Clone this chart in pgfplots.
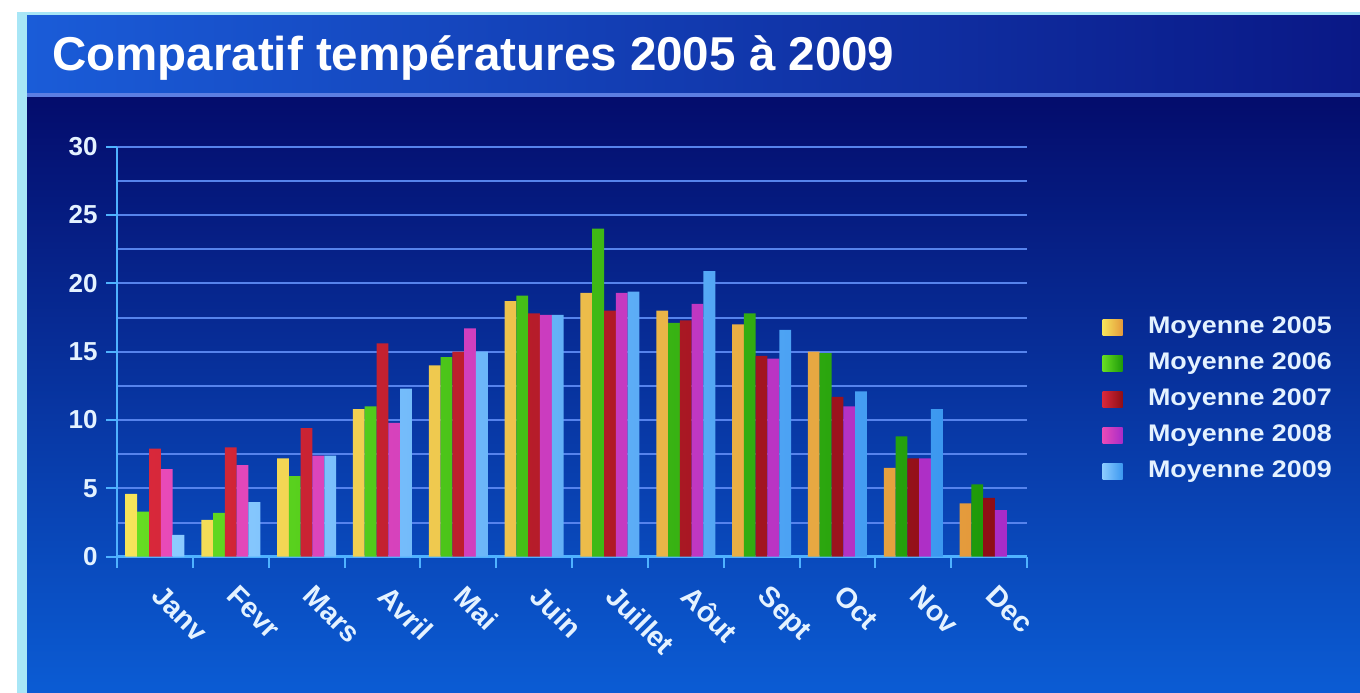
\documentclass[border=0pt]{standalone}
\usepackage{pgfplots}
\pgfplotsset{compat=1.18}
\usepackage{fontspec}
\setmainfont{Liberation Sans}
\usepackage{graphicx}

\definecolor{edge}{HTML}{A8E6F6}
\definecolor{mainTop}{HTML}{040C6C}
\definecolor{mainBot}{HTML}{0B5CD4}
\definecolor{tLeft}{HTML}{1A5CD8}
\definecolor{tRight}{HTML}{0A1886}
\definecolor{tLine}{HTML}{5C7EE2}
\definecolor{gridc}{HTML}{5683EC}
\definecolor{axisc}{HTML}{4FB2FF}
\definecolor{labc}{HTML}{E4F2FF}

\definecolor{yA}{HTML}{F6E45A}\definecolor{yB}{HTML}{E49A3C}
\definecolor{gA}{HTML}{66DD22}\definecolor{gB}{HTML}{1E9A0A}
\definecolor{rA}{HTML}{D8283A}\definecolor{rB}{HTML}{8E0E16}
\definecolor{mA}{HTML}{E84AB8}\definecolor{mB}{HTML}{A82CC8}
\definecolor{bA}{HTML}{8CCBFF}\definecolor{bB}{HTML}{3C98F0}

\begin{document}
\begin{tikzpicture}
\useasboundingbox (0bp,0bp) rectangle (1360bp,693bp);
\begin{scope}[x=1bp,y=1bp]
\fill[white] (0,0) rectangle (1360,693);
\fill[edge] (17,0) rectangle (1360,681);
\shade[top color=mainTop, bottom color=mainBot] (27,0) rectangle (1360,597);
\shade[left color=tLeft, right color=tRight] (27,600) rectangle (1360,677);
\fill[tLine] (27,596) rectangle (1360,600);
\node[anchor=base west, inner sep=0pt, text=white, font=\fontsize{47.5bp}{52bp}\selectfont\bfseries] at (52,622) {Comparatif températures 2005 à 2009};
\end{scope}

\begin{axis}[
  at={(117bp,136.3bp)}, anchor=south west,
  scale only axis, width=910bp, height=410bp,
  xmin=-0.5, xmax=11.5, ymin=0, ymax=30,
  ybar=0pt, bar width=11.8bp,
  axis line style={draw=axisc, line width=2.5bp},
  axis x line*=bottom, axis y line*=left,
  xtick={-0.5,0.5,...,11.5},
  xticklabels={Janv,Fevr,Mars,Avril,Mai,Juin,Juillet,Aôut,Sept,Oct,Nov,Dec,{}},
  xticklabel style={xshift=47bp, yshift=-11bp, rotate=-45, anchor=north west,
    text=labc, font=\fontsize{28.5bp}{32bp}\selectfont\bfseries},
  ytick={0,5,...,30},
  minor ytick={2.5,7.5,...,27.5},
  ymajorgrids, yminorgrids,
  major grid style={draw=gridc, line width=2bp},
  minor grid style={draw=gridc, line width=2bp},
  tick align=outside, major tick length=11bp, minor tick length=0pt,
  tick style={draw=axisc, line width=2bp},
  /pgf/number format/assume math mode=true,
  yticklabel style={xshift=-5bp, text=labc, font=\fontsize{26bp}{30bp}\selectfont\bfseries},
  legend style={at={(1.0795,0.384)}, anchor=west, draw=none, fill=none,
    text=labc, font=\fontsize{24bp}{28bp}\selectfont\bfseries,
    row sep=9.9bp,
    /tikz/every odd column/.append style={column sep=24bp},
    nodes={inner sep=1.5bp, text height=18bp, text depth=5bp}},
  legend cell align=left,
  legend image code/.code={\path[#1, draw=none] (0bp,-8bp) rectangle (20bp,8bp);},
]
\addplot[draw=none, left color=yA, right color=yB] coordinates {
 (0,4.6) (1,2.7) (2,7.2) (3,10.8) (4,14.0) (5,18.7) (6,19.3) (7,18.0) (8,17.0) (9,15.0) (10,6.5) (11,3.9)};
\addplot[draw=none, left color=gA, right color=gB] coordinates {
 (0,3.3) (1,3.2) (2,5.9) (3,11.0) (4,14.6) (5,19.1) (6,24.0) (7,17.1) (8,17.8) (9,14.9) (10,8.8) (11,5.3)};
\addplot[draw=none, left color=rA, right color=rB] coordinates {
 (0,7.9) (1,8.0) (2,9.4) (3,15.6) (4,15.0) (5,17.8) (6,18.0) (7,17.3) (8,14.7) (9,11.7) (10,7.2) (11,4.3)};
\addplot[draw=none, left color=mA, right color=mB] coordinates {
 (0,6.4) (1,6.7) (2,7.4) (3,9.8) (4,16.7) (5,17.7) (6,19.3) (7,18.5) (8,14.5) (9,11.0) (10,7.2) (11,3.4)};
\addplot[draw=none, left color=bA, right color=bB] coordinates {
 (0,1.6) (1,4.0) (2,7.4) (3,12.3) (4,15.0) (5,17.7) (6,19.4) (7,20.9) (8,16.6) (9,12.1) (10,10.8)};
\legend{\scalebox{1.12}[1]{Moyenne 2005},\scalebox{1.12}[1]{Moyenne 2006},\scalebox{1.12}[1]{Moyenne 2007},\scalebox{1.12}[1]{Moyenne 2008},\scalebox{1.12}[1]{Moyenne 2009}}
\end{axis}
\end{tikzpicture}
\end{document}
